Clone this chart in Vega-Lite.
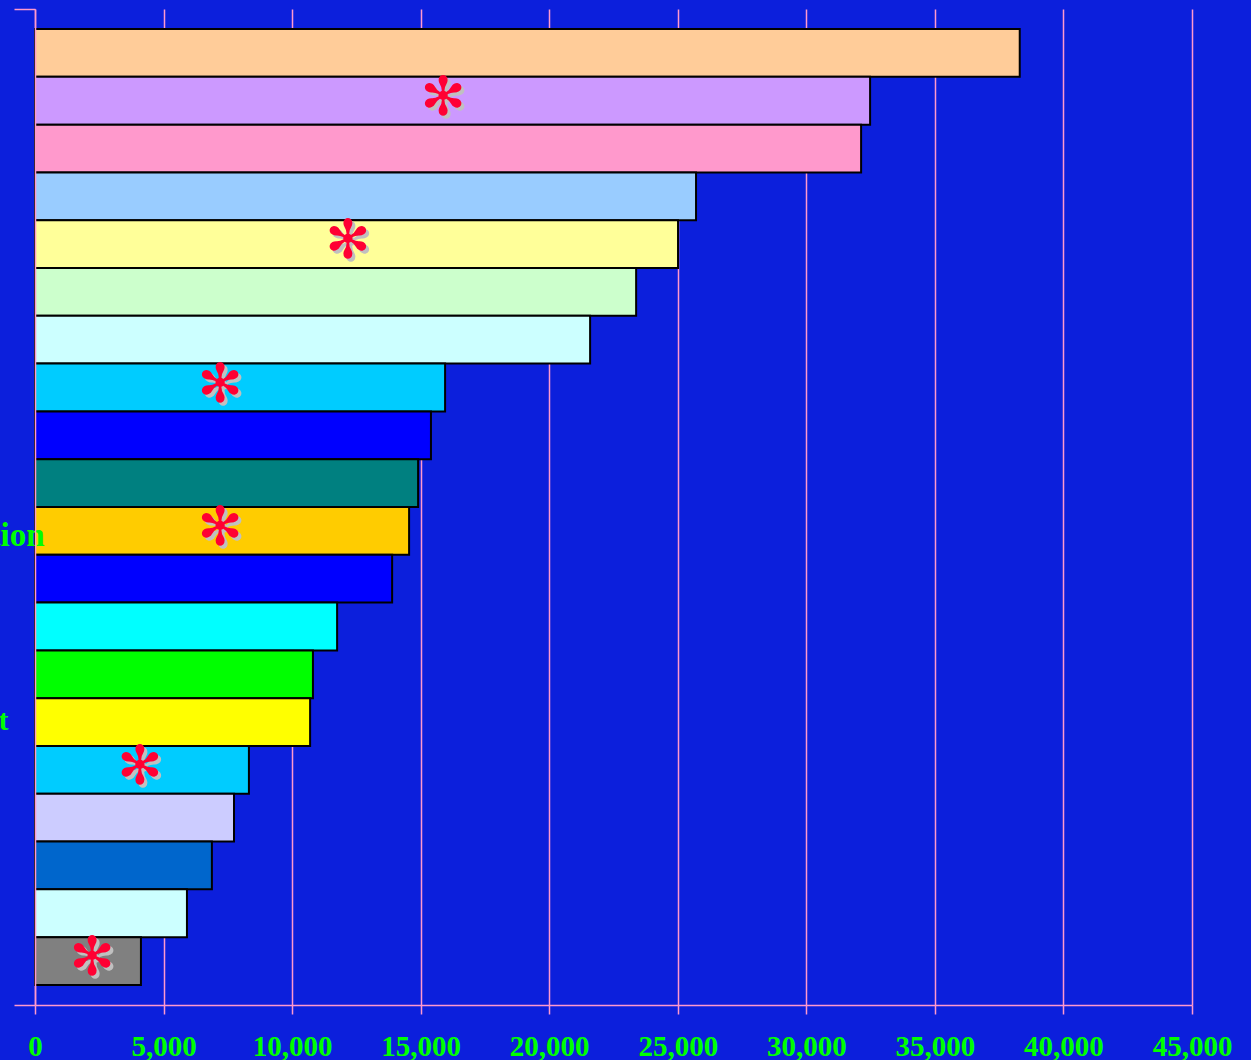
{
  "$schema": "https://vega.github.io/schema/vega-lite/v6.json",
  "width": 1157,
  "height": 996,
  "autosize": {"type": "none"},
  "padding": {"left": 35, "top": 9, "right": 59, "bottom": 55},
  "background": "#0c1fdc",
  "config": {
    "view": {"stroke": null},
    "axis": {
      "labelFont": "Liberation Serif",
      "labelFontWeight": "bold",
      "labelFontSize": 29,
      "labelColor": "#00ff00",
      "labelLimit": 0,
      "domainColor": "#ff99cc",
      "domainWidth": 1.5,
      "tickColor": "#ff99cc",
      "tickWidth": 1.5,
      "gridColor": "#ff99cc",
      "gridWidth": 1.5,
      "gridOpacity": 1,
      "title": null
    }
  },
  "data": {
    "values": [
      {"name": "Oil", "value": 38300, "color": "#ffcc99", "star": null},
      {"name": "Gas", "value": 32480, "color": "#cc99ff", "star": 15870},
      {"name": "Steel", "value": 32130, "color": "#ff99cc", "star": null},
      {"name": "Autos", "value": 25710, "color": "#99ccff", "star": null},
      {"name": "Media", "value": 25010, "color": "#ffff99", "star": 12170},
      {"name": "Banks", "value": 23380, "color": "#ccffcc", "star": null},
      {"name": "Retail", "value": 21590, "color": "#ccffff", "star": null},
      {"name": "Energy", "value": 15950, "color": "#00ccff", "star": 7200},
      {"name": "Mining", "value": 15400, "color": "#0000ff", "star": null},
      {"name": "Paper", "value": 14900, "color": "#008080", "star": null},
      {"name": "Communication", "value": 14550, "color": "#ffcc00", "star": 7200},
      {"name": "Food", "value": 13890, "color": "#0000ff", "star": null},
      {"name": "Textiles", "value": 11750, "color": "#00ffff", "star": null},
      {"name": "Chemicals", "value": 10810, "color": "#00ff00", "star": null},
      {"name": "Transport", "value": 10700, "color": "#ffff00", "star": null},
      {"name": "Tobacco", "value": 8320, "color": "#00ccff", "star": 4080},
      {"name": "Tourism", "value": 7740, "color": "#ccccff", "star": null},
      {"name": "Airlines", "value": 6880, "color": "#0066cc", "star": null},
      {"name": "Software", "value": 5910, "color": "#ccffff", "star": null},
      {"name": "Shipping", "value": 4120, "color": "#808080", "star": 2220}
    ]
  },
  "layer": [
    {
      "layer": [
        {
          "mark": {"type": "bar", "stroke": "#000000", "strokeWidth": 2},
          "encoding": {
            "y": {
              "field": "name",
              "type": "nominal",
              "sort": null,
              "scale": {"paddingInner": 0, "paddingOuter": 0.42},
              "axis": {
                "zindex": 1,
                "ticks": false,
                "grid": false,
                "labelAlign": "right",
                "labelBaseline": "alphabetic",
                "labelExpr": "datum.value === 'Communication' || datum.value === 'Transport' ? datum.value : ''",
                "labelFontSize": {"condition": {"test": "datum.value === 'Communication'", "value": 33}, "value": 29},
                "labelPadding": {"condition": {"test": "datum.value === 'Communication'", "value": -9}, "value": 27},
                "labelOffset": {"condition": {"test": "datum.value === 'Communication'", "value": 15}, "value": 8}
              }
            },
            "x": {
              "field": "value",
              "type": "quantitative",
              "scale": {"domain": [0, 45000]},
              "axis": {
                "values": [0, 5000, 10000, 15000, 20000, 25000, 30000, 35000, 40000, 45000],
                "format": ",d",
                "tickSize": 9,
                "grid": true,
                "labelBaseline": "alphabetic",
                "labelPadding": 41,
                "labelFlush": false,
                "labelOverlap": false
              }
            },
            "color": {"field": "color", "type": "nominal", "scale": null, "legend": null}
          }
        },
        {
          "mark": {"type": "text", "text": "✻", "font": "DejaVu Sans", "fontSize": 54, "color": "#c0c0c0", "dx": 3, "dy": 1, "baseline": "middle", "align": "center"},
          "encoding": {
            "y": {"field": "name", "type": "nominal", "sort": null},
            "x": {"field": "star", "type": "quantitative"}
          }
        },
        {
          "mark": {"type": "text", "text": "✻", "font": "DejaVu Sans", "fontSize": 54, "color": "#ff0033", "dx": 0, "dy": -2, "baseline": "middle", "align": "center"},
          "encoding": {
            "y": {"field": "name", "type": "nominal", "sort": null},
            "x": {"field": "star", "type": "quantitative"}
          }
        }
      ]
    },
    {
      "mark": {"type": "rule", "opacity": 0},
      "encoding": {
        "y": {
          "datum": 0,
          "type": "quantitative",
          "scale": {"domain": [0, 1]},
          "axis": {"orient": "left", "values": [0, 1], "tickSize": 21, "labels": false, "domain": false, "grid": false}
        }
      }
    }
  ],
  "resolve": {"scale": {"y": "independent"}}
}
